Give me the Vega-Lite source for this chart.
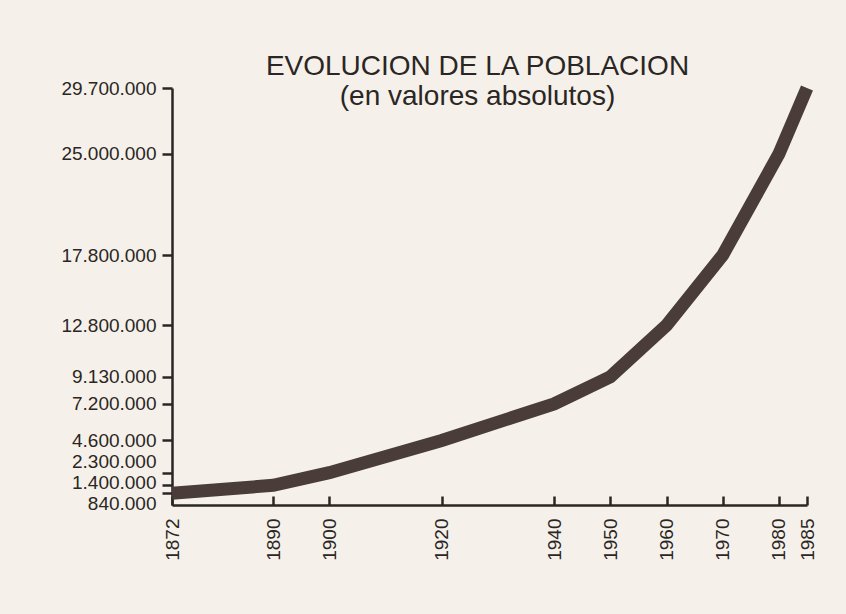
{
  "$schema": "https://vega.github.io/schema/vega-lite/v6.json",
  "autosize": "none",
  "width": 635,
  "height": 417,
  "padding": {"left": 172, "top": 88, "right": 39, "bottom": 109},
  "background": "#f5f1ea",
  "config": {
    "locale": {"number": {"decimal": ",", "thousands": ".", "grouping": [3], "currency": ["", ""]}},
    "view": {"stroke": null},
    "font": "Liberation Sans"
  },
  "title": {
    "text": "EVOLUCION DE LA POBLACION",
    "subtitle": "(en valores absolutos)",
    "anchor": "middle",
    "frame": "group",
    "dx": -12,
    "offset": -49,
    "fontSize": 28,
    "fontWeight": "normal",
    "color": "#2b2624",
    "subtitleFontSize": 28,
    "subtitleColor": "#2b2624",
    "subtitlePadding": 2,
    "font": "Liberation Sans",
    "subtitleFont": "Liberation Sans"
  },
  "data": {
    "values": [
      {"year": 1872, "population": 840000},
      {"year": 1890, "population": 1400000},
      {"year": 1900, "population": 2300000},
      {"year": 1920, "population": 4600000},
      {"year": 1940, "population": 7200000},
      {"year": 1950, "population": 9130000},
      {"year": 1960, "population": 12800000},
      {"year": 1970, "population": 17800000},
      {"year": 1980, "population": 25000000},
      {"year": 1985, "population": 29700000}
    ]
  },
  "mark": {"type": "line", "color": "#4a3d39", "strokeWidth": 13, "strokeCap": "butt", "strokeJoin": "miter", "clip": false},
  "encoding": {
    "x": {
      "field": "year",
      "type": "quantitative",
      "scale": {"domain": [1872, 1985], "nice": false, "zero": false},
      "axis": {
        "title": null,
        "values": [1872, 1890, 1900, 1920, 1940, 1950, 1960, 1970, 1980, 1985],
        "format": "d",
        "labelAngle": -90,
        "labelAlign": "right",
        "labelBaseline": "middle",
        "labelFontSize": 19,
        "labelColor": "#2b2624",
        "labelFont": "Liberation Sans",
        "labelOverlap": false,
        "labelFlush": false,
        "tickSize": -9,
        "tickWidth": 2.5,
        "tickColor": "#2b2624",
        "domainWidth": 2.5,
        "domainColor": "#2b2624",
        "labelPadding": 22,
        "grid": false
      }
    },
    "y": {
      "field": "population",
      "type": "quantitative",
      "scale": {"domain": [0, 29700000], "nice": false},
      "axis": {
        "title": null,
        "values": [840000, 1400000, 2300000, 4600000, 7200000, 9130000, 12800000, 17800000, 25000000, 29700000],
        "format": ",d",
        "labelFontSize": 19,
        "labelColor": "#2b2624",
        "labelFont": "Liberation Sans",
        "labelOverlap": false,
        "labelFlush": false,
        "labelOffset": {"expr": "datum.value == 840000 ? 10 : datum.value == 1400000 ? -3 : datum.value == 2300000 ? -11 : 0"},
        "tickSize": 10,
        "tickWidth": 2.5,
        "tickColor": "#2b2624",
        "domainWidth": 2.5,
        "domainColor": "#2b2624",
        "labelPadding": 6,
        "grid": false
      }
    }
  }
}
